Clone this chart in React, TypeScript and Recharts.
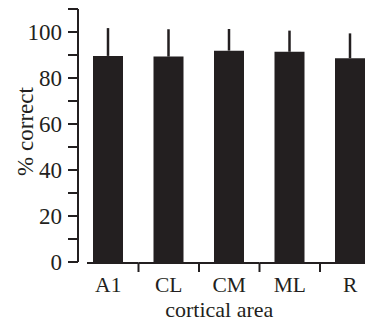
import React from "react";
import { BarChart, Bar, XAxis, YAxis, ErrorBar } from "recharts";

const areas = ["A1", "CL", "CM", "ML", "R"];
const meanCorrect = [89.6, 89.3, 91.9, 91.4, 88.6];
const errUp = [12.1, 11.9, 9.4, 9.2, 10.8];
const yTicks = [0, 10, 20, 30, 40, 50, 60, 70, 80, 90, 100, 110];

const data = areas.map((name, i) => ({
  name,
  value: meanCorrect[i],
  err: [0, errUp[i]],
}));

const INK = "#231f20";
const FONT = "'Liberation Serif', 'Times New Roman', serif";
const FS = 23;

// x axis drawn piecewise: segment of axis line per band, tick between bands, label
const AreaTick = (props: any) => {
  const { x, y, payload, index } = props;
  const half = payload?.offset || 30.25;
  const start = index === 0 ? x - half + 9 : x - half;
  return (
    <g>
      <line x1={start} y1={y + 1} x2={x + half} y2={y + 1} stroke={INK} strokeWidth={2} />
      {index < areas.length - 1 && (
        <line x1={x + half} y1={y + 1} x2={x + half} y2={y + 10} stroke={INK} strokeWidth={2} />
      )}
      <text x={x} y={y + 30} textAnchor="middle" fill={INK} fontSize={21.5} fontFamily={FONT}>
        {payload.value}
      </text>
      {index === 2 && (
        <text x={x - 10} y={y + 55} textAnchor="middle" fill={INK} fontSize={22} fontFamily={FONT}>
          cortical area
        </text>
      )}
    </g>
  );
};

const YLabel = (props: any) => {
  const { viewBox } = props;
  const cx = 33;
  const cy = viewBox.y + viewBox.height / 2 - 4;
  return (
    <text
      x={cx}
      y={cy}
      transform={`rotate(-90 ${cx} ${cy})`}
      textAnchor="middle"
      fill={INK}
      fontSize={FS}
      fontFamily={FONT}
    >
      % correct
    </text>
  );
};

export default function App() {
  return (
    <div
      style={{
        position: "fixed",
        left: 0,
        top: 0,
        width: 365,
        height: 322,
        overflow: "hidden",
        background: "#fff",
      }}
    >
      <BarChart
        width={400}
        height={322}
        data={data}
        margin={{ top: 9, right: 19.5, left: 0, bottom: 0 }}
        style={{ fontFamily: FONT }}
      >
        <XAxis
          dataKey="name"
          height={60}
          axisLine={false}
          tickLine={false}
          tickSize={0}
          tickMargin={0}
          interval={0}
          tick={<AreaTick />}
        />
        <YAxis
          width={78}
          domain={[0, 110]}
          ticks={yTicks}
          interval={0}
          tickFormatter={(v: number) => (v % 20 === 0 && v <= 100 ? String(v) : "")}
          axisLine={{ stroke: INK, strokeWidth: 2 }}
          tickLine={{ stroke: INK, strokeWidth: 2 }}
          tickSize={10}
          tickMargin={6}
          tick={{ fill: INK, fontSize: FS, fontFamily: FONT }}
          label={<YLabel />}
        />
        <Bar dataKey="value" fill={INK} barSize={30} isAnimationActive={false}>
          <ErrorBar dataKey="err" width={0} stroke={INK} strokeWidth={2.5} direction="y" />
        </Bar>
      </BarChart>
    </div>
  );
}
